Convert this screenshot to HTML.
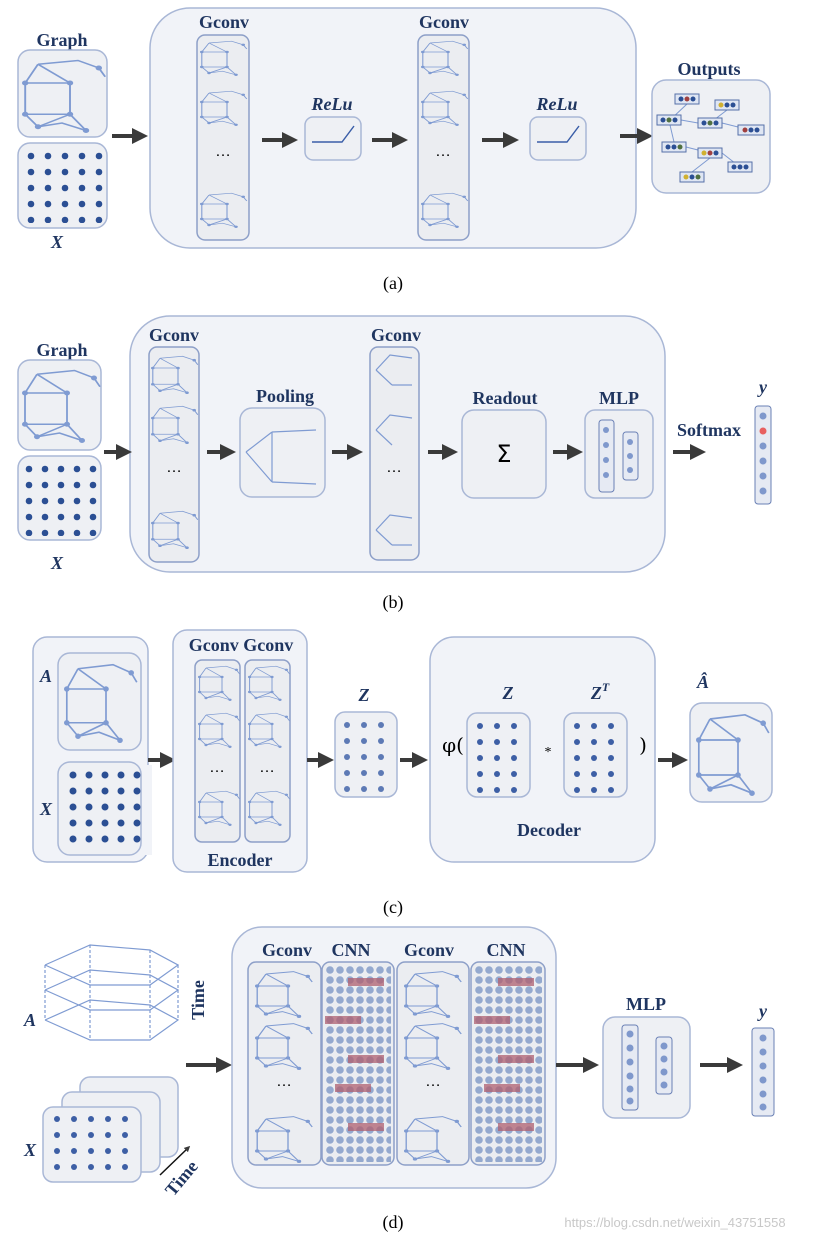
<!DOCTYPE html>
<html><head><meta charset="utf-8"><style>
html,body{margin:0;padding:0;background:#fff;}
svg{display:block;}
.lb{font-family:"Liberation Serif",serif;font-weight:bold;fill:#1f3560;font-size:18px;text-anchor:middle;}
.it{font-style:italic;}
.cap{font-family:"Liberation Serif",serif;font-size:18px;fill:#000;text-anchor:middle;}
.bx{fill:#eef0f4;stroke:#a9b7d6;stroke-width:1.5;}
.big{fill:#f1f3f8;stroke:#a9b7d6;stroke-width:1.5;}
.col{fill:#ebedf1;stroke:#8d9fc8;stroke-width:1.5;}
.g line,.g polyline{stroke:#7f9bd2;stroke-width:1.2;fill:none;}
.ar{stroke:#3a3a3a;stroke-width:4;marker-end:url(#ah);}
</style></head><body>
<svg width="826" height="1240" viewBox="0 0 826 1240" xmlns="http://www.w3.org/2000/svg">
<defs>
<marker id="ah" markerWidth="4" markerHeight="4" refX="2" refY="2" orient="auto"><path d="M0,0 L4,2 L0,4 z" fill="#3a3a3a"/></marker>
<pattern id="pa" x="26" y="151" width="17" height="16" patternUnits="userSpaceOnUse"><circle cx="5" cy="5" r="3.3" fill="#2b4f94"/></pattern>
<pattern id="pb" x="24" y="464" width="16" height="16" patternUnits="userSpaceOnUse"><circle cx="5" cy="5" r="3.3" fill="#2b4f94"/></pattern>
<pattern id="pc" x="68" y="770" width="16" height="16" patternUnits="userSpaceOnUse"><circle cx="5" cy="5" r="3.5" fill="#2b4f94"/></pattern>
<pattern id="pz" x="342" y="720" width="17" height="16" patternUnits="userSpaceOnUse"><circle cx="5" cy="5" r="3" fill="#5d7ab5"/></pattern>
<pattern id="pz2" x="475" y="721" width="17" height="16" patternUnits="userSpaceOnUse"><circle cx="5" cy="5" r="3" fill="#3d5fa5"/></pattern>
<pattern id="pz3" x="572" y="721" width="17" height="16" patternUnits="userSpaceOnUse"><circle cx="5" cy="5" r="3" fill="#3d5fa5"/></pattern>
<pattern id="pd" x="52" y="1114" width="17" height="16" patternUnits="userSpaceOnUse"><circle cx="5" cy="5" r="3" fill="#3d5fa5"/></pattern>
<pattern id="cnn" x="325" y="965" width="10" height="10" patternUnits="userSpaceOnUse"><circle cx="5" cy="5" r="3.8" fill="#94a9cf"/></pattern>
<pattern id="cnn2" x="474" y="965" width="10" height="10" patternUnits="userSpaceOnUse"><circle cx="5" cy="5" r="3.8" fill="#94a9cf"/></pattern>
<g id="gr" class="g">
<polyline points="10,5 35,2 48,8 52,15"/><polyline points="10,5 2,20 2,45 10,55 25,52 40,58"/><line x1="2" y1="20" x2="30" y2="20"/><line x1="30" y1="20" x2="30" y2="45"/><line x1="2" y1="45" x2="30" y2="45"/><line x1="30" y1="45" x2="40" y2="58"/><line x1="10" y1="55" x2="30" y2="45"/><line x1="10" y1="5" x2="30" y2="20"/>
<circle cx="2" cy="20" r="2" fill="#7f9bd2"/><circle cx="30" cy="20" r="2" fill="#7f9bd2"/><circle cx="2" cy="45" r="2" fill="#7f9bd2"/><circle cx="30" cy="45" r="2" fill="#7f9bd2"/><circle cx="10" cy="55" r="2" fill="#7f9bd2"/><circle cx="40" cy="58" r="2" fill="#7f9bd2"/><circle cx="48" cy="8" r="2" fill="#7f9bd2"/>
</g>
</defs>

<!-- (a) -->
<rect class="big" x="150" y="8" width="486" height="240" rx="40"/>
<text class="lb" x="62" y="46">Graph</text>
<rect class="bx" x="18" y="50" width="89" height="87" rx="12"/>
<use href="#gr" transform="translate(22,58) scale(1.6,1.25)"/>
<rect class="bx" x="18" y="143" width="89" height="85" rx="12"/>
<rect x="26" y="151" width="80" height="72" fill="url(#pa)"/>
<text class="lb it" x="57" y="248">X</text>
<line class="ar" x1="112" y1="136" x2="140" y2="136"/>
<text class="lb" x="224" y="28">Gconv</text>
<rect class="col" x="197" y="35" width="52" height="205" rx="8"/>
<use href="#gr" transform="translate(200,40) scale(0.9,0.6)"/><use href="#gr" transform="translate(200,90) scale(0.9,0.6)"/><use href="#gr" transform="translate(200,192) scale(0.9,0.6)"/>
<text x="223" y="156" font-size="16" text-anchor="middle" font-family="Liberation Sans">…</text>
<line class="ar" x1="262" y1="140" x2="290" y2="140"/>
<text class="lb it" x="332" y="110">ReLu</text>
<rect class="bx" x="305" y="117" width="56" height="43" rx="8"/>
<polyline points="312,142 342,142 354,126" stroke="#3a5ea8" stroke-width="1.4" fill="none"/>
<line class="ar" x1="372" y1="140" x2="400" y2="140"/>
<text class="lb" x="444" y="28">Gconv</text>
<rect class="col" x="418" y="35" width="51" height="205" rx="8"/>
<use href="#gr" transform="translate(421,40) scale(0.9,0.6)"/><use href="#gr" transform="translate(421,90) scale(0.9,0.6)"/><use href="#gr" transform="translate(421,192) scale(0.9,0.6)"/>
<text x="443" y="156" font-size="16" text-anchor="middle" font-family="Liberation Sans">…</text>
<line class="ar" x1="482" y1="140" x2="511" y2="140"/>
<text class="lb it" x="557" y="110">ReLu</text>
<rect class="bx" x="530" y="117" width="56" height="43" rx="8"/>
<polyline points="537,142 567,142 579,126" stroke="#3a5ea8" stroke-width="1.4" fill="none"/>
<line class="ar" x1="620" y1="136" x2="645" y2="136"/>
<text class="lb" x="709" y="75">Outputs</text>
<rect class="bx" x="652" y="80" width="118" height="113" rx="14"/>
<g stroke="#7f9bd2" stroke-width="1"><line x1="687" y1="104" x2="670" y2="120"/><line x1="727" y1="110" x2="710" y2="123"/><line x1="681" y1="120" x2="698" y2="123"/><line x1="670" y1="125" x2="674" y2="142"/><line x1="722" y1="123" x2="750" y2="130"/><line x1="686" y1="147" x2="710" y2="153"/><line x1="710" y1="158" x2="692" y2="172"/><line x1="722" y1="153" x2="740" y2="167"/></g>
<g stroke="#5570a8" fill="#dfe6f3"><rect x="675" y="94" width="24" height="10"/><rect x="715" y="100" width="24" height="10"/><rect x="657" y="115" width="24" height="10"/><rect x="698" y="118" width="24" height="10"/><rect x="738" y="125" width="26" height="10"/><rect x="662" y="142" width="24" height="10"/><rect x="698" y="148" width="24" height="10"/><rect x="728" y="162" width="24" height="10"/><rect x="680" y="172" width="24" height="10"/></g>
<g fill="#2b4f94"><circle cx="681" cy="99" r="2.5"/><circle cx="687" cy="99" r="2.5" fill="#a04040"/><circle cx="693" cy="99" r="2.5"/><circle cx="721" cy="105" r="2.5" fill="#d0b030"/><circle cx="727" cy="105" r="2.5"/><circle cx="733" cy="105" r="2.5"/><circle cx="663" cy="120" r="2.5"/><circle cx="669" cy="120" r="2.5" fill="#507040"/><circle cx="675" cy="120" r="2.5"/><circle cx="704" cy="123" r="2.5"/><circle cx="710" cy="123" r="2.5" fill="#507040"/><circle cx="716" cy="123" r="2.5"/><circle cx="745" cy="130" r="2.5" fill="#a04040"/><circle cx="751" cy="130" r="2.5"/><circle cx="757" cy="130" r="2.5"/><circle cx="668" cy="147" r="2.5"/><circle cx="674" cy="147" r="2.5"/><circle cx="680" cy="147" r="2.5" fill="#507040"/><circle cx="704" cy="153" r="2.5" fill="#d0b030"/><circle cx="710" cy="153" r="2.5" fill="#a04040"/><circle cx="716" cy="153" r="2.5"/><circle cx="734" cy="167" r="2.5"/><circle cx="740" cy="167" r="2.5"/><circle cx="746" cy="167" r="2.5"/><circle cx="686" cy="177" r="2.5" fill="#d0b030"/><circle cx="692" cy="177" r="2.5"/><circle cx="698" cy="177" r="2.5" fill="#507040"/></g>
<text class="cap" x="393" y="289">(a)</text>

<!-- (b) -->
<rect class="big" x="130" y="316" width="535" height="256" rx="40"/>
<text class="lb" x="62" y="356">Graph</text>
<rect class="bx" x="18" y="360" width="83" height="90" rx="12"/>
<use href="#gr" transform="translate(22,368) scale(1.5,1.25)"/>
<rect class="bx" x="18" y="456" width="83" height="84" rx="12"/>
<rect x="24" y="464" width="75" height="72" fill="url(#pb)"/>
<text class="lb it" x="57" y="569">X</text>
<line class="ar" x1="104" y1="452" x2="124" y2="452"/>
<text class="lb" x="174" y="341">Gconv</text>
<rect class="col" x="149" y="347" width="50" height="215" rx="8"/>
<use href="#gr" transform="translate(151,355) scale(0.9,0.65)"/><use href="#gr" transform="translate(151,405) scale(0.9,0.65)"/><use href="#gr" transform="translate(151,510) scale(0.9,0.65)"/>
<text x="174" y="472" font-size="16" text-anchor="middle" font-family="Liberation Sans">…</text>
<line class="ar" x1="207" y1="452" x2="228" y2="452"/>
<text class="lb" x="285" y="402">Pooling</text>
<rect class="bx" x="240" y="408" width="85" height="89" rx="12"/>
<g class="g"><line x1="272" y1="432" x2="316" y2="430"/><line x1="272" y1="432" x2="246" y2="452"/><line x1="246" y1="452" x2="272" y2="482"/><line x1="272" y1="432" x2="272" y2="482"/><line x1="272" y1="482" x2="316" y2="484"/></g>
<line class="ar" x1="332" y1="452" x2="355" y2="452"/>
<text class="lb" x="396" y="341">Gconv</text>
<rect class="col" x="370" y="347" width="49" height="213" rx="8"/>
<g class="g"><polyline points="376,370 390,355 412,358"/><line x1="376" y1="370" x2="392" y2="385"/><line x1="392" y1="385" x2="412" y2="385"/><polyline points="376,430 390,415 412,418"/><line x1="376" y1="430" x2="392" y2="445"/><polyline points="376,530 390,515 412,518"/><line x1="376" y1="530" x2="392" y2="545"/><line x1="392" y1="545" x2="412" y2="545"/></g>
<text x="394" y="472" font-size="16" text-anchor="middle" font-family="Liberation Sans">…</text>
<line class="ar" x1="428" y1="452" x2="450" y2="452"/>
<text class="lb" x="505" y="404">Readout</text>
<rect class="bx" x="462" y="410" width="84" height="88" rx="12"/>
<text x="504" y="462" font-size="24" text-anchor="middle" font-family="DejaVu Sans">Σ</text>
<line class="ar" x1="553" y1="452" x2="575" y2="452"/>
<text class="lb" x="619" y="404">MLP</text>
<rect class="bx" x="585" y="410" width="68" height="88" rx="10"/>
<rect x="599" y="420" width="15" height="72" rx="3" fill="#e6eaf3" stroke="#6a80b5"/>
<rect x="623" y="432" width="15" height="48" rx="3" fill="#e6eaf3" stroke="#6a80b5"/>
<g fill="#7f98cc"><circle cx="606" cy="430" r="3"/><circle cx="606" cy="445" r="3"/><circle cx="606" cy="460" r="3"/><circle cx="606" cy="475" r="3"/><circle cx="630" cy="442" r="3"/><circle cx="630" cy="456" r="3"/><circle cx="630" cy="470" r="3"/></g>
<text class="lb" x="709" y="436">Softmax</text>
<line class="ar" x1="673" y1="452" x2="698" y2="452"/>
<text class="lb it" x="763" y="393">y</text>
<rect x="755" y="406" width="16" height="98" rx="3" fill="#e6eaf3" stroke="#6a80b5"/>
<g fill="#7f98cc"><circle cx="763" cy="416" r="3.5"/><circle cx="763" cy="431" r="3.5" fill="#e86060"/><circle cx="763" cy="446" r="3.5"/><circle cx="763" cy="461" r="3.5"/><circle cx="763" cy="476" r="3.5"/><circle cx="763" cy="491" r="3.5"/></g>
<text class="cap" x="393" y="608">(b)</text>

<!-- (c) -->
<rect class="big" x="33" y="637" width="115" height="225" rx="14"/>
<text class="lb it" x="46" y="682">A</text>
<rect class="bx" x="58" y="653" width="83" height="97" rx="12"/>
<use href="#gr" transform="translate(64,662) scale(1.4,1.35)"/>
<text class="lb it" x="46" y="815">X</text>
<rect class="bx" x="58" y="762" width="83" height="93" rx="12"/>
<rect x="68" y="770" width="80" height="80" fill="url(#pc)" transform="translate(0,0)"/>
<rect x="142" y="765" width="10" height="90" fill="#f1f3f8"/>
<line class="ar" x1="148" y1="760" x2="168" y2="760"/>
<rect class="big" x="173" y="630" width="134" height="242" rx="14"/>
<text class="lb" x="241" y="651">Gconv Gconv</text>
<rect class="col" x="195" y="660" width="45" height="182" rx="7"/>
<rect class="col" x="245" y="660" width="45" height="182" rx="7"/>
<use href="#gr" transform="translate(198,665) scale(0.8,0.6)"/><use href="#gr" transform="translate(198,712) scale(0.8,0.6)"/><use href="#gr" transform="translate(198,790) scale(0.8,0.6)"/>
<use href="#gr" transform="translate(248,665) scale(0.8,0.6)"/><use href="#gr" transform="translate(248,712) scale(0.8,0.6)"/><use href="#gr" transform="translate(248,790) scale(0.8,0.6)"/>
<text x="217" y="772" font-size="16" text-anchor="middle" font-family="Liberation Sans">…</text>
<text x="267" y="772" font-size="16" text-anchor="middle" font-family="Liberation Sans">…</text>
<text class="lb" x="240" y="866">Encoder</text>
<line class="ar" x1="307" y1="760" x2="326" y2="760"/>
<text class="lb it" x="364" y="701">Z</text>
<rect class="bx" x="335" y="712" width="62" height="85" rx="10"/>
<rect x="340" y="718" width="53" height="75" fill="url(#pz)"/>
<line class="ar" x1="400" y1="760" x2="420" y2="760"/>
<rect class="big" x="430" y="637" width="225" height="225" rx="24"/>
<text class="lb it" x="508" y="699">Z</text>
<text class="lb it" x="600" y="699">Z<tspan font-size="12" dy="-8">T</tspan></text>
<text x="453" y="752" font-size="20" text-anchor="middle" font-family="DejaVu Serif">φ(</text>
<rect class="bx" x="467" y="713" width="63" height="84" rx="10"/>
<rect x="472" y="718" width="54" height="75" fill="url(#pz2)"/>
<text x="548" y="756" font-size="14" text-anchor="middle">*</text>
<rect class="bx" x="564" y="713" width="63" height="84" rx="10"/>
<rect x="569" y="718" width="54" height="75" fill="url(#pz3)"/>
<text x="643" y="752" font-size="20" text-anchor="middle" font-family="DejaVu Serif">)</text>
<text class="lb" x="549" y="836">Decoder</text>
<line class="ar" x1="658" y1="760" x2="680" y2="760"/>
<text class="lb it" x="703" y="688">Â</text>
<rect class="bx" x="690" y="703" width="82" height="99" rx="12"/>
<use href="#gr" transform="translate(696,712) scale(1.4,1.4)"/>
<text class="cap" x="393" y="913">(c)</text>

<!-- (d) -->
<g class="g">
<polyline points="45,965 90,945 150,950 178,965 150,985 90,985 45,965"/>
<polyline points="45,990 90,970 150,975 178,990 150,1010 90,1010 45,990"/>
<polyline points="45,1020 90,1000 150,1005 178,1020 150,1040 90,1040 45,1020"/>
<line x1="45" y1="965" x2="45" y2="1020" stroke-dasharray="3,2"/><line x1="90" y1="945" x2="90" y2="1040" stroke-dasharray="3,2"/><line x1="150" y1="950" x2="150" y2="1040" stroke-dasharray="3,2"/><line x1="178" y1="965" x2="178" y2="1020" stroke-dasharray="3,2"/>
</g>
<text class="lb it" x="30" y="1026">A</text>
<text class="lb" x="0" y="0" transform="translate(204,1000) rotate(-90)">Time</text>
<rect class="bx" x="80" y="1077" width="98" height="80" rx="10"/>
<rect class="bx" x="62" y="1092" width="98" height="80" rx="10"/>
<rect class="bx" x="43" y="1107" width="98" height="75" rx="10"/>
<rect x="50" y="1114" width="86" height="64" fill="url(#pd)"/>
<text class="lb it" x="30" y="1156">X</text>
<line x1="160" y1="1175" x2="188" y2="1148" stroke="#111" stroke-width="1.5" marker-end="url(#ah)"/>
<text class="lb" x="0" y="0" transform="translate(186,1182) rotate(-50)">Time</text>
<line class="ar" x1="186" y1="1065" x2="224" y2="1065"/>
<rect class="big" x="232" y="927" width="324" height="261" rx="30"/>
<text class="lb" x="287" y="956">Gconv</text><text class="lb" x="351" y="956">CNN</text><text class="lb" x="429" y="956">Gconv</text><text class="lb" x="506" y="956">CNN</text>
<rect class="col" x="248" y="962" width="73" height="203" rx="8"/>
<rect class="col" x="322" y="962" width="72" height="203" rx="8"/>
<rect class="col" x="397" y="962" width="72" height="203" rx="8"/>
<rect class="col" x="471" y="962" width="74" height="203" rx="8"/>
<use href="#gr" transform="translate(255,970) scale(1.1,0.8)"/><use href="#gr" transform="translate(255,1022) scale(1.1,0.8)"/><use href="#gr" transform="translate(255,1115) scale(1.1,0.8)"/>
<use href="#gr" transform="translate(404,970) scale(1.1,0.8)"/><use href="#gr" transform="translate(404,1022) scale(1.1,0.8)"/><use href="#gr" transform="translate(404,1115) scale(1.1,0.8)"/>
<text x="284" y="1086" font-size="16" text-anchor="middle" font-family="Liberation Sans">…</text>
<text x="433" y="1086" font-size="16" text-anchor="middle" font-family="Liberation Sans">…</text>
<rect x="325" y="965" width="66" height="197" fill="url(#cnn)"/>
<rect x="474" y="965" width="68" height="197" fill="url(#cnn2)"/>
<g fill="#b06070" opacity="0.75"><rect x="348" y="978" width="36" height="8"/><rect x="325" y="1016" width="36" height="8"/><rect x="348" y="1055" width="36" height="8"/><rect x="335" y="1084" width="36" height="8"/><rect x="348" y="1123" width="36" height="8"/>
<rect x="498" y="978" width="36" height="8"/><rect x="474" y="1016" width="36" height="8"/><rect x="498" y="1055" width="36" height="8"/><rect x="484" y="1084" width="36" height="8"/><rect x="498" y="1123" width="36" height="8"/></g>
<line class="ar" x1="556" y1="1065" x2="591" y2="1065"/>
<text class="lb" x="646" y="1010">MLP</text>
<rect class="bx" x="603" y="1017" width="87" height="101" rx="12"/>
<rect x="622" y="1025" width="16" height="85" rx="3" fill="#e6eaf3" stroke="#6a80b5"/>
<rect x="656" y="1037" width="16" height="57" rx="3" fill="#e6eaf3" stroke="#6a80b5"/>
<g fill="#7f98cc"><circle cx="630" cy="1034" r="3.5"/><circle cx="630" cy="1048" r="3.5"/><circle cx="630" cy="1062" r="3.5"/><circle cx="630" cy="1076" r="3.5"/><circle cx="630" cy="1089" r="3.5"/><circle cx="630" cy="1101" r="3.5"/><circle cx="664" cy="1046" r="3.5"/><circle cx="664" cy="1059" r="3.5"/><circle cx="664" cy="1072" r="3.5"/><circle cx="664" cy="1085" r="3.5"/></g>
<line class="ar" x1="700" y1="1065" x2="735" y2="1065"/>
<text class="lb it" x="763" y="1017">y</text>
<rect x="752" y="1028" width="22" height="88" rx="3" fill="#e6eaf3" stroke="#6a80b5"/>
<g fill="#7f98cc"><circle cx="763" cy="1038" r="3.5"/><circle cx="763" cy="1052" r="3.5"/><circle cx="763" cy="1066" r="3.5"/><circle cx="763" cy="1080" r="3.5"/><circle cx="763" cy="1094" r="3.5"/><circle cx="763" cy="1107" r="3.5"/></g>
<text class="cap" x="393" y="1228">(d)</text>
<text x="675" y="1227" font-size="13" fill="#c8c8c8" text-anchor="middle" font-family="Liberation Sans">https://blog.csdn.net/weixin_43751558</text>
</svg>
</body></html>
